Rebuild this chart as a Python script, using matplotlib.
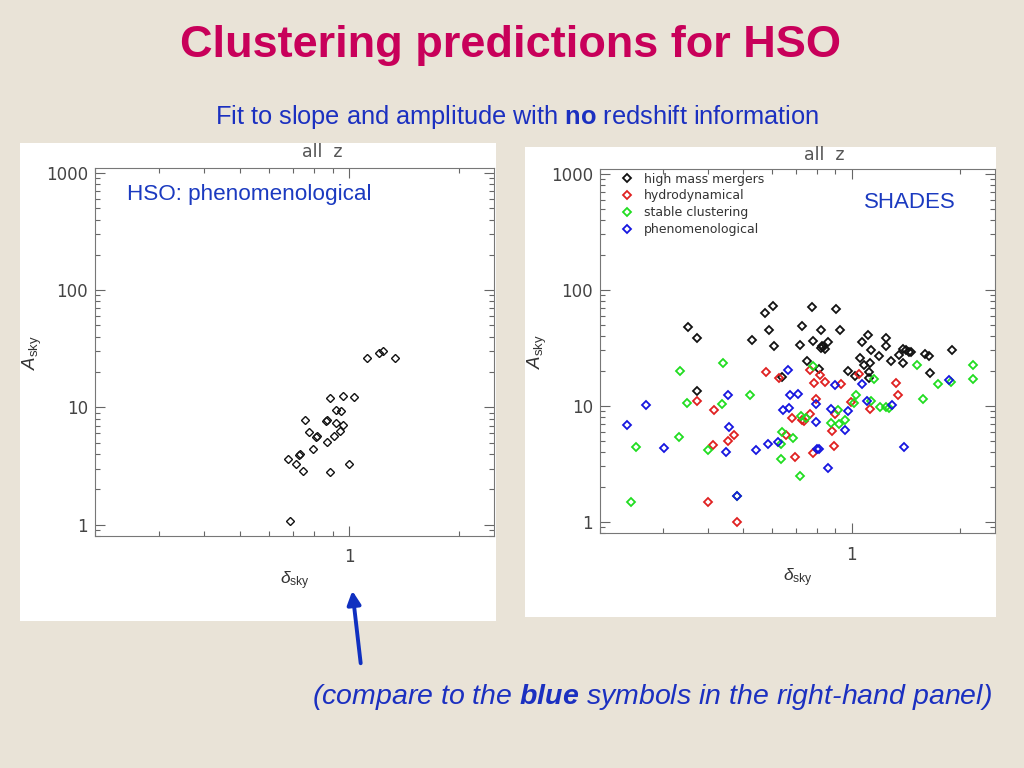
import numpy as np
import matplotlib
matplotlib.use("Agg")
from matplotlib import pyplot as plt
from matplotlib.patches import Rectangle, FancyArrowPatch
from matplotlib.ticker import LogLocator, FuncFormatter, NullFormatter

plt.rcParams['mathtext.fontset'] = 'custom'
plt.rcParams['mathtext.rm'] = 'Liberation Sans'
plt.rcParams['mathtext.it'] = 'Liberation Sans:italic'
plt.rcParams['mathtext.bf'] = 'Liberation Sans:bold'
plt.rcParams['mathtext.bfit'] = 'Liberation Sans:italic:bold'

# left panel: HSO phenomenological
hso_delta = [1.116, 1.205, 1.237, 1.339, 0.887, 0.962, 1.03, 0.755, 0.862, 0.866,
             0.917, 0.952, 0.918, 0.962, 0.942, 0.907, 0.869, 0.774, 0.808, 0.813,
             0.793, 0.678, 0.727, 0.731, 0.715, 0.746, 0.885, 0.996, 0.689]
hso_amp = [26.4, 28.9, 30.3, 26.4, 12.1, 12.4, 12.3, 7.86, 7.6, 7.8,
           9.56, 9.37, 7.3, 7.08, 6.3, 5.74, 5.03, 6.12, 5.6, 5.65,
           4.44, 3.65, 3.92, 4.0, 3.29, 2.85, 2.81, 3.29, 1.07]

# right panel: SHADES
hmm_delta = [0.350, 0.372, 0.372, 0.528, 0.576, 0.589, 0.605, 0.608, 0.640, 0.749,
             0.718, 0.729, 0.774, 0.782, 0.811, 0.821, 0.827, 0.820, 0.832, 0.841,
             0.861, 0.903, 0.930, 0.977, 1.024, 1.055, 1.069, 1.085, 1.111, 1.117,
             1.117, 1.132, 1.127, 1.191, 1.249, 1.249, 1.287, 1.349, 1.384, 1.390,
             1.414, 1.445, 1.460, 1.594, 1.642, 1.652, 1.899]
hmm_amp = [48.1, 38.6, 13.3, 36.8, 62.8, 45.0, 73.1, 32.7, 17.7, 24.4,
           33.1, 49.1, 71.2, 35.9, 20.9, 44.7, 32.9, 31.4, 32.3, 31.0,
           35.4, 68.0, 45.3, 20.0, 18.1, 25.7, 35.2, 22.5, 40.7, 19.7,
           17.3, 30.2, 23.6, 27.0, 38.4, 32.9, 24.1, 27.3, 23.3, 30.8,
           30.2, 29.0, 29.0, 28.2, 26.6, 19.2, 30.2]

hydro_delta = [0.578, 0.629, 0.373, 0.415, 0.412, 0.454, 0.471, 0.399, 0.481, 0.684,
               0.729, 0.698, 0.738, 0.764, 0.764, 0.787, 0.797, 0.816, 0.843, 0.884,
               0.895, 0.932, 0.998, 1.048, 1.127, 1.326, 1.346, 0.658, 0.899, 0.780]
hydro_amp = [19.6, 17.5, 11.0, 9.23, 4.56, 4.94, 5.64, 1.49, 1.0, 7.87,
             7.61, 3.59, 7.36, 8.41, 20.3, 15.8, 11.5, 18.6, 16.0, 6.11,
             4.47, 15.5, 10.8, 18.7, 9.42, 15.6, 12.5, 5.64, 8.41, 3.91]

stable_delta = [0.244, 0.252, 0.331, 0.333, 0.348, 0.398, 0.437, 0.438, 0.521, 0.641,
                0.638, 0.638, 0.688, 0.717, 0.723, 0.745, 0.780, 0.874, 0.916, 0.922,
                0.956, 1.015, 1.030, 1.154, 1.132, 1.197, 1.243, 1.270, 1.514, 1.573,
                1.736, 1.891, 2.178, 2.178, 0.481]
stable_amp = [1.49, 4.44, 5.35, 20.0, 10.5, 4.15, 10.4, 23.6, 12.3, 5.95,
              4.68, 3.49, 5.28, 2.49, 8.14, 7.87, 22.1, 7.07, 9.17, 6.98,
              7.56, 10.6, 12.5, 17.1, 11.1, 9.73, 9.76, 9.6, 22.4, 11.5,
              15.3, 16.0, 22.5, 17.1, 1.68]

phen_delta = [0.237, 0.268, 0.302, 0.449, 0.452, 0.455, 0.479, 0.542, 0.587, 0.624,
              0.645, 0.669, 0.665, 0.676, 0.710, 0.794, 0.794, 0.799, 0.809, 0.859,
              0.876, 0.901, 0.956, 0.975, 1.071, 1.103, 1.292, 1.393, 1.859]
phen_amp = [6.84, 10.1, 4.35, 3.97, 12.5, 6.53, 1.68, 4.13, 4.65, 4.87,
            9.17, 9.6, 20.3, 12.3, 12.6, 10.3, 7.31, 4.24, 4.24, 2.90,
            9.42, 15.0, 6.24, 8.93, 15.5, 11.1, 10.1, 4.44, 16.8]

series_labels = ["high mass mergers", "hydrodynamical", "stable clustering", "phenomenological"]
series_colors = ["#111111", "#e02020", "#20dd20", "#1515e0"]

W, H = 1024, 768
fig = plt.figure(figsize=(W / 100, H / 100), dpi=100)
fig.patch.set_facecolor("#e9e3d7")

def fx(px):
    return px / W

def fy(py):
    return 1 - py / H

# white plot panels
fig.patches.append(Rectangle((fx(20), fy(621)), fx(496) - fx(20), fy(143) - fy(621),
                             transform=fig.transFigure, facecolor="white", edgecolor="none", zorder=-5))
fig.patches.append(Rectangle((fx(525), fy(617)), fx(996) - fx(525), fy(147) - fy(617),
                             transform=fig.transFigure, facecolor="white", edgecolor="none", zorder=-5))

ax1 = fig.add_axes([fx(95), fy(536), fx(494) - fx(95), fy(168) - fy(536)])
ax2 = fig.add_axes([fx(600), fy(533), fx(995) - fx(600), fy(169) - fy(533)])

def style_axes(ax):
    ax.set_xscale("log")
    ax.set_yscale("log")
    ax.set_xlim(0.2, 2.5)
    ax.set_ylim(0.8, 1100)
    ax.set_facecolor("white")
    ax.xaxis.set_major_locator(LogLocator(base=10))
    ax.xaxis.set_minor_locator(LogLocator(base=10, subs=np.arange(2, 10)))
    ax.yaxis.set_major_locator(LogLocator(base=10))
    ax.yaxis.set_minor_locator(LogLocator(base=10, subs=np.arange(2, 10)))
    fmt = FuncFormatter(lambda v, p: "%g" % v)
    ax.xaxis.set_major_formatter(fmt)
    ax.yaxis.set_major_formatter(fmt)
    ax.xaxis.set_minor_formatter(NullFormatter())
    ax.yaxis.set_minor_formatter(NullFormatter())
    ax.tick_params(which="both", direction="in", top=True, right=True,
                   color="#666666", width=0.8, labelcolor="#444444", labelsize=12)
    ax.tick_params(which="major", length=7)
    ax.tick_params(which="minor", length=3.5)
    ax.tick_params(axis="x", pad=9)
    ax.tick_params(axis="y", pad=5)
    for s in ax.spines.values():
        s.set_color("#777777")
        s.set_linewidth(0.8)
    ax.set_ylabel(r"$A_{\mathrm{sky}}$", fontsize=13.5, color="#333333")
    ax.set_xlabel(r"$\delta_{\mathrm{sky}}$", fontsize=12.5, color="#333333")

style_axes(ax1)
style_axes(ax2)
ax1.yaxis.set_label_coords(-0.127, 0.5)
ax2.yaxis.set_label_coords(-0.129, 0.5)
ax1.xaxis.set_label_coords(0.5, -0.09)
ax2.xaxis.set_label_coords(0.5, -0.093)

ax1.plot(hso_delta, hso_amp, linestyle="none", marker="D", ms=4.2, mfc="none",
         mec="#111111", mew=1.0, clip_on=False)

ax2_data = [(hmm_delta, hmm_amp), (hydro_delta, hydro_amp),
            (stable_delta, stable_amp), (phen_delta, phen_amp)]
for (d, a), lab, col in zip(ax2_data, series_labels, series_colors):
    ax2.plot(d, a, linestyle="none", marker="D", ms=4.4, mfc="none", mec=col,
             mew=1.3, label=lab, clip_on=False)

leg = ax2.legend(loc="upper left", bbox_to_anchor=(0.055, 0.99), frameon=False,
                 fontsize=9, handlelength=0.9, handletextpad=0.9, labelspacing=0.3,
                 borderaxespad=0, borderpad=0, markerscale=0.85)
for t in leg.get_texts():
    t.set_color("#333333")

for ax, x, y in [(ax1, 0.569, 1.043), (ax2, 0.567, 1.038)]:
    ax.text(x, y, "all  z", transform=ax.transAxes, ha="center", va="center",
            fontsize=12.5, color="#555555")

ax1.text(0.080, 0.927, "HSO: phenomenological", transform=ax1.transAxes, ha="left",
         va="center", fontsize=16.2, color="#1b3ac0", family="Liberation Sans")
ax2.text(0.785, 0.907, "SHADES", transform=ax2.transAxes, ha="center",
         va="center", fontsize=16, color="#1b3ac0", family="Liberation Sans")

# slide texts
fig.text(fx(510), fy(45), "Clustering predictions for HSO", ha="center", va="center",
         fontsize=32.5, fontweight="bold", color="#c8005a", family="Liberation Sans")
fig.text(fx(517), fy(117), r"Fit to slope and amplitude with $\mathbf{no}$ redshift information",
         ha="center", va="center", fontsize=18.3, color="#1b30c0", family="Liberation Sans")
fig.text(fx(652), fy(697),
         r"(compare to the $\mathbfit{blue}$ symbols in the right-hand panel)",
         ha="center", va="center", fontsize=20.5, style="italic", color="#1b30c0",
         family="Liberation Sans")

arrow = FancyArrowPatch((fx(361), fy(666)), (fx(352), fy(588)), transform=fig.transFigure,
                        arrowstyle="-|>", mutation_scale=20, lw=2.8, color="#1030c0")
fig.patches.append(arrow)

fig.savefig("out.png", dpi=100, facecolor=fig.get_facecolor())
